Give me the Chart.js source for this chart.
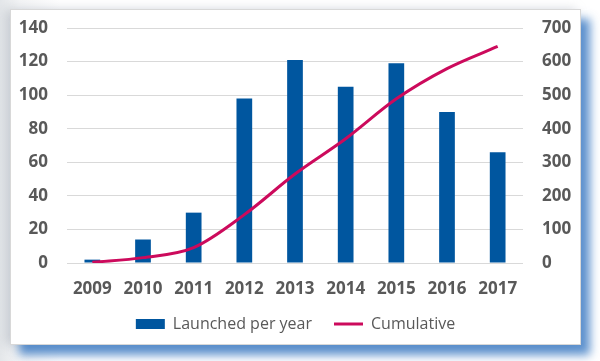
<!DOCTYPE html>
<html>
<head>
<meta charset="utf-8">
<script src="https://cdn.jsdelivr.net/npm/chart.js@4.4.1/dist/chart.umd.min.js"></script>
<style>
  html, body { margin: 0; padding: 0; }
  body { width: 600px; height: 361px; position: relative; overflow: hidden;
         background: linear-gradient(90deg, #e4e7ea 0px, #f4f5f6 20px, #ffffff 60px); }
  #card { position: absolute; left: 10px; top: 9px; width: 571px; height: 336px;
          background: #ffffff; border: 1px solid #d8d8d8; box-sizing: border-box;
          box-shadow: 9px 10px 9px rgba(40,110,190,0.75), -5px 0 10px rgba(140,150,160,0.35); }
  #wrap { position: absolute; left: 10px; top: 9px; width: 571px; height: 336px; }
</style>
</head>
<body>
<div id="card"></div>
<div id="wrap"><canvas id="c" width="571" height="336"></canvas></div>
<script>
const categories = ['2009','2010','2011','2012','2013','2014','2015','2016','2017'];
const launchedPerYear = [2, 14, 30, 98, 121, 105, 119, 90, 66];
const cumulative = [2, 16, 46, 144, 265, 370, 489, 579, 645];
const leftTicks = [0, 20, 40, 60, 80, 100, 120, 140];
const rightTicks = [0, 100, 200, 300, 400, 500, 600, 700];

const textColor = '#595959';
const tickFont = { family: '"Open Sans", sans-serif', size: 17, weight: 'bold' };

function noVPad(s) { s.paddingTop = 0; s.paddingBottom = 0; }

new Chart(document.getElementById('c'), {
  data: {
    labels: categories,
    datasets: [
      { type: 'line', label: 'Cumulative', data: cumulative, yAxisID: 'y1',
        borderColor: '#CC0A5C', backgroundColor: '#CC0A5C', borderWidth: 3,
        pointRadius: 0, tension: 0.4, cubicInterpolationMode: 'monotone', pointStyle: 'line', order: 0 },
      { type: 'bar', label: 'Launched per year', data: launchedPerYear, yAxisID: 'y',
        backgroundColor: '#00569F', barPercentage: 0.31, categoryPercentage: 1.0,
        pointStyle: 'rect', order: 1 }
    ]
  },
  options: {
    responsive: false,
    animation: false,
    devicePixelRatio: 1,
    layout: { padding: { left: 0, right: 0, top: 19, bottom: 3 } },
    plugins: {
      tooltip: { enabled: false },
      legend: {
        position: 'bottom',
        reverse: true,
        labels: {
          usePointStyle: true, pointStyleWidth: 29, boxHeight: 10, padding: 22,
          color: textColor,
          font: { family: '"Open Sans", sans-serif', size: 16 }
        }
      }
    },
    scales: {
      x: {
        afterFit: (s) => { s.height = 31; },
        grid: { display: false, drawTicks: false },
        border: { display: false },
        ticks: { color: textColor, font: tickFont, padding: 16, maxRotation: 0 }
      },
      y: {
        position: 'left', min: 0, max: 140,
        afterBuildTicks: (s) => { s.ticks = leftTicks.map(v => ({ value: v })); },
        afterFit: (s) => { s.width = 57; noVPad(s); },
        grid: { color: '#d9d9d9', lineWidth: 1, drawTicks: false },
        border: { display: false },
        ticks: { color: textColor, font: tickFont, padding: 19 }
      },
      y1: {
        position: 'right', min: 0, max: 700,
        afterBuildTicks: (s) => { s.ticks = rightTicks.map(v => ({ value: v })); },
        afterFit: (s) => { s.width = 58; noVPad(s); },
        grid: { display: false, drawTicks: false },
        border: { display: false },
        ticks: { color: textColor, font: tickFont, padding: 19 }
      }
    }
  }
});
</script>
</body>
</html>
